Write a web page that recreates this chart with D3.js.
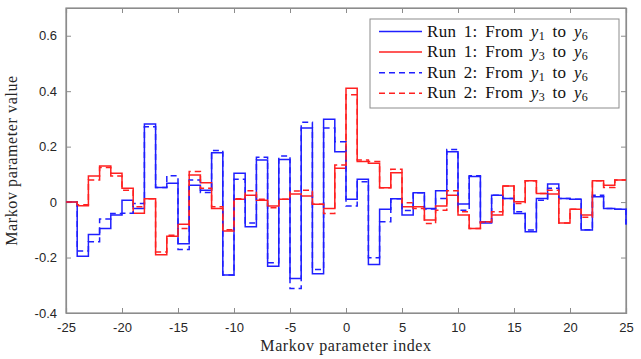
<!DOCTYPE html>
<html><head><meta charset="utf-8">
<script src="https://cdn.jsdelivr.net/npm/d3@7"></script>
<style>body{margin:0;background:#fff}svg{display:block}</style>
</head><body>
<svg id="c" width="641" height="359"></svg>
<script>
const xTicks = [-25,-20,-15,-10,-5,0,5,10,15,20,25];
const yTicks = [-0.4,-0.2,0,0.2,0.4,0.6];
const idx = d3.range(-25, 26);
const run1_y1 = [0,-0.195,-0.117,-0.095,-0.047,0.007,-0.023,0.282,0.053,0.068,-0.15,0.061,0.043,0.178,-0.263,0.104,-0.089,0.152,-0.231,0.154,-0.276,0.267,-0.258,0.299,0.182,0.01,0.082,-0.225,-0.026,0.012,-0.047,0.034,-0.023,0.041,0.182,-0.007,0.092,-0.075,0.025,0.013,-0.041,-0.107,0.013,0.065,0.013,0.01,-0.101,0.019,-0.023,-0.026,-0.081];
const run1_y3 = [0,-0.013,0.094,0.13,0.104,0.05,-0.04,0.012,-0.19,-0.123,-0.08,0.098,0.07,-0.023,-0.104,0.01,0.025,0.007,-0.014,0.01,0.029,0.022,-0.008,-0.023,0.122,0.411,0.146,0.14,0.052,0.106,-0.017,-0.017,-0.065,-0.014,0.025,-0.047,-0.095,-0.071,-0.047,0.058,0.001,0.077,0.031,0.029,-0.075,-0.026,-0.047,0.077,0.061,0.08,0.08];
const run2_y1 = [0,-0.176,-0.143,-0.061,-0.041,-0.04,-0.005,0.272,0.053,0.095,-0.171,0.08,0.035,0.186,-0.263,0.082,-0.075,0.162,-0.219,0.166,-0.312,0.288,-0.243,0.267,0.218,-0.014,0.073,-0.201,-0.071,0.012,-0.03,0.034,-0.025,0.013,0.19,-0.029,0.095,-0.072,0.025,0.013,-0.035,-0.101,0.007,0.05,0.013,0.01,-0.1,0.025,-0.023,-0.026,-0.081];
const run2_y3 = [0,-0.01,0.08,0.125,0.094,0.043,-0.017,0.012,-0.18,-0.12,-0.095,0.11,0.05,-0.017,-0.1,0.012,0.041,0.01,-0.02,0.01,0.04,0.043,-0.008,-0.041,0.134,0.387,0.152,0.146,0.052,0.118,-0.002,-0.023,-0.077,-0.029,0.041,-0.035,-0.095,-0.072,-0.035,0.058,-0.005,0.077,0.031,0.043,-0.075,-0.026,-0.055,0.077,0.053,0.08,0.08];
const seriesNames = ["Run 1: From |y|1| to |y|6","Run 1: From |y|3| to |y|6","Run 2: From |y|1| to |y|6","Run 2: From |y|3| to |y|6"];

const svg = d3.select("#c");
const L=66,R=626,T=8,B=313;
const x = d3.scaleLinear().domain([-25,25]).range([L,R]);
const y = d3.scaleLinear().domain([-0.4,0.7]).range([B,T]);
const axisCol = "#8c8c8c";

svg.append("rect").attr("x",L).attr("y",T).attr("width",R-L).attr("height",B-T).attr("fill","#fff");

const font = "'Liberation Sans', Arial, sans-serif";
const hy = s => s.replace("\u2212","-");
const ax = svg.append("g").attr("transform",`translate(0,${B})`).call(d3.axisBottom(x).tickValues(xTicks).tickSize(-5).tickPadding(10).tickFormat(d=>hy(d3.format("d")(d))));
const axT = svg.append("g").attr("transform",`translate(0,${T})`).call(d3.axisTop(x).tickValues(xTicks).tickSize(-5).tickFormat(""));
const ay = svg.append("g").attr("transform",`translate(${L},0)`).call(d3.axisLeft(y).tickValues(yTicks).tickSize(-5).tickPadding(9).tickFormat(d=>d===0?"0":hy(d3.format(".1f")(d))));
const ayR = svg.append("g").attr("transform",`translate(${R},0)`).call(d3.axisRight(y).tickValues(yTicks).tickSize(-5).tickFormat(""));
[ax,axT,ay,ayR].forEach(a=>{
  a.selectAll(".domain").attr("stroke",axisCol).attr("stroke-width",1.2);
  a.selectAll(".tick line").attr("stroke",axisCol).attr("stroke-width",1);
  a.selectAll("text").attr("fill","#262626").style("font-family",font).style("font-size","13px");
});
svg.append("rect").attr("x",L).attr("y",T).attr("width",R-L).attr("height",B-T).attr("fill","none").attr("stroke",axisCol).attr("stroke-width",1.2);

const series = [
  {v:run1_y1,c:"#1f1fff",d:null},
  {v:run1_y3,c:"#ff2020",d:null},
  {v:run2_y1,c:"#1f1fff",d:"6,4"},
  {v:run2_y3,c:"#ff2020",d:"6,4"}
];
const line = d3.line().x((d,i)=>x(idx[i])).y(d=>y(d)).curve(d3.curveStepAfter);
const g = svg.append("g");
series.forEach(s=>{
  g.append("path").attr("d",line(s.v)).attr("fill","none").attr("stroke",s.c)
   .attr("stroke-width",1.5).attr("stroke-dasharray",s.d);
});

const serif = "'Liberation Serif','Times New Roman',serif";
svg.append("text").attr("x",(L+R)/2).attr("y",351).attr("text-anchor","middle")
  .style("font-family",serif).style("font-size","16px").style("letter-spacing","0.6px").attr("fill","#262626").text("Markov parameter index");
svg.append("text").attr("transform",`translate(17,${(T+B)/2}) rotate(-90)`).attr("text-anchor","middle")
  .style("font-family",serif).style("font-size","16px").style("letter-spacing","0.6px").attr("fill","#262626").text("Markov parameter value");

const lg = svg.append("g");
lg.append("rect").attr("x",370).attr("y",19).attr("width",249).attr("height",89).attr("fill","#fff").attr("stroke","#8c8c8c").attr("stroke-width",1);
series.forEach((s,i)=>{
  const cy = 31.5 + i*20.6;
  lg.append("line").attr("x1",379).attr("x2",422).attr("y1",cy).attr("y2",cy).attr("stroke",s.c).attr("stroke-width",1.5).attr("stroke-dasharray",s.d);
  const t = lg.append("text").attr("x",427).attr("y",cy+5).style("font-family",serif).style("font-size","17px")
    .style("word-spacing","3px").style("letter-spacing","0.3px").attr("fill","#111");
  const parts = seriesNames[i].split("|");
  t.append("tspan").text(parts[0]);
  t.append("tspan").style("font-style","italic").text(parts[1]);
  t.append("tspan").attr("dy",3).style("font-size","12px").text(parts[2]);
  t.append("tspan").attr("dy",-3).text(parts[3]);
  t.append("tspan").style("font-style","italic").text(parts[4]);
  t.append("tspan").attr("dy",3).style("font-size","12px").text(parts[5]);
});
</script>
</body></html>
